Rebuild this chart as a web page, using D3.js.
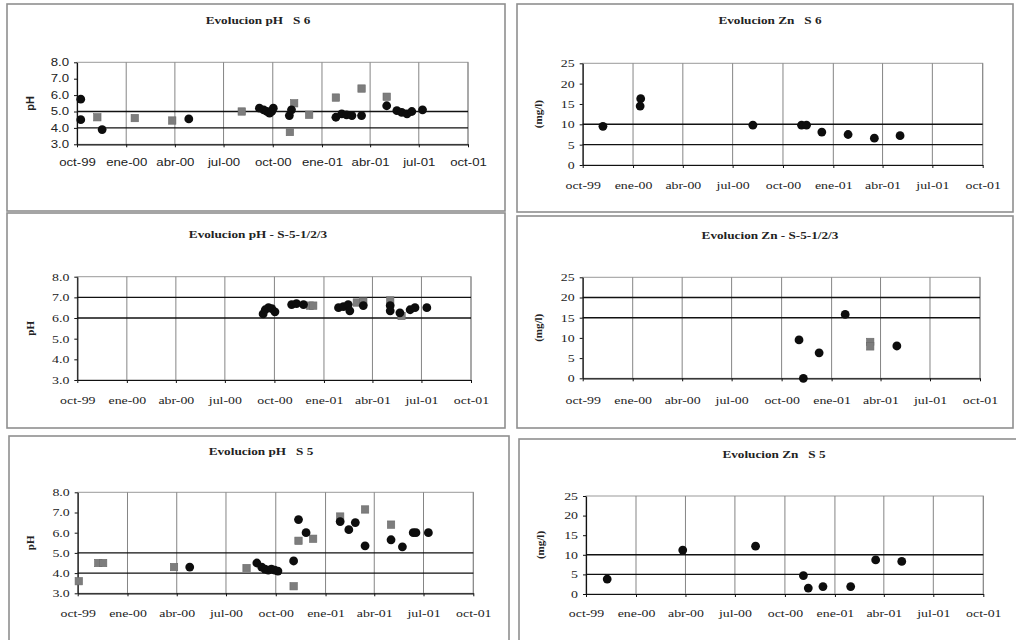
<!DOCTYPE html>
<html><head><meta charset="utf-8">
<script src="https://cdn.jsdelivr.net/npm/d3@7"></script>
<style>body{margin:0;background:#fff} svg{display:block}</style>
</head><body>
<svg id="c" width="1016" height="640"></svg>
<script>
// ---------------- DATA ----------------
const tickDates = ["1999-10-01","2000-01-01","2000-04-01","2000-07-01","2000-10-01","2001-01-01","2001-04-01","2001-07-01","2001-10-01"];
const xTickLabels = ["oct-99","ene-00","abr-00","jul-00","oct-00","ene-01","abr-01","jul-01","oct-01"];
const phTicks = [3,4,5,6,7,8];
const znTicks = [0,5,10,15,20,25];
const titles = ["Evolucion pH   S 6","Evolucion Zn   S 6","Evolucion pH - S-5-1/2/3","Evolucion Zn - S-5-1/2/3","Evolucion pH   S 5","Evolucion Zn   S 5"];
const yLabels = ["pH","(mg/l)","pH","(mg/l)","pH","(mg/l)"];

// S 6 pH
const s6PhBlack = [["1999-10-08",5.75],["1999-10-08",4.5],["1999-11-17",3.9],["2000-04-27",4.55],
  ["2000-09-06",5.2],["2000-09-14",5.1],["2000-09-20",5.0],["2000-09-25",4.9],["2000-09-29",5.0],["2000-10-02",5.2],
  ["2000-11-01",4.75],["2000-11-05",5.1],["2001-01-27",4.65],["2001-02-07",4.85],["2001-02-16",4.8],["2001-02-26",4.75],
  ["2001-03-16",4.75],["2001-05-02",5.35],["2001-05-21",5.05],["2001-05-30",4.95],["2001-06-09",4.85],["2001-06-18",5.0],["2001-07-08",5.1]];
const s6PhGray = [["1999-11-08",4.65],["2000-01-17",4.6],["2000-03-27",4.45],["2000-08-04",5.0],["2000-11-10",5.5],
  ["2000-11-02",3.75],["2000-12-08",4.8],["2001-01-27",5.85],["2001-03-16",6.4],["2001-05-02",5.9]];
const s6PhLimits = [4,5];
// S 6 Zn
const s6ZnBlack = [["1999-11-07",9.5],["2000-01-15",16.3],["2000-01-14",14.5],["2000-08-07",9.8],["2000-11-04",9.8],
  ["2000-11-13",9.8],["2000-12-11",8.1],["2001-01-28",7.5],["2001-03-17",6.6],["2001-05-03",7.2]];
const s6ZnGray = [];
const s6ZnLimits = [5,10];
// S-5-1/2/3 pH
const s5123PhBlack = [["2000-09-10",6.2],["2000-09-14",6.4],["2000-09-20",6.5],["2000-09-26",6.45],["2000-10-02",6.3],
  ["2000-11-02",6.65],["2000-11-11",6.7],["2000-11-24",6.65],["2001-01-28",6.5],["2001-02-06",6.55],["2001-02-15",6.65],
  ["2001-02-18",6.35],["2001-03-15",6.6],["2001-05-04",6.6],["2001-05-04",6.35],["2001-05-22",6.25],["2001-06-10",6.4],
  ["2001-06-19",6.5],["2001-07-11",6.5]];
const s5123PhGray = [["2000-12-06",6.6],["2000-12-12",6.6],["2001-03-03",6.75],["2001-03-15",6.8],["2001-05-04",6.85],["2001-05-25",6.1]];
const s5123PhLimits = [6,7];
// S-5-1/2/3 Zn
const s5123ZnBlack = [["2000-11-02",9.5],["2000-11-10",0],["2000-12-09",6.3],["2001-01-26",15.8],["2001-05-01",8.0]];
const s5123ZnGray = [["2001-03-13",9.0],["2001-03-13",7.9]];
const s5123ZnLimits = [15,20];
// S 5 pH
const s5PhBlack = [["2000-04-25",4.3],["2000-08-27",4.5],["2000-09-05",4.3],["2000-09-11",4.2],["2000-09-17",4.15],
  ["2000-09-23",4.2],["2000-09-29",4.15],["2000-10-05",4.1],["2000-11-03",4.6],["2000-11-12",6.65],["2000-11-26",6.0],
  ["2001-01-28",6.55],["2001-02-13",6.15],["2001-02-25",6.5],["2001-03-15",5.35],["2001-05-02",5.65],["2001-05-23",5.3],
  ["2001-06-12",6.0],["2001-06-17",6.0],["2001-07-10",6.0]];
const s5PhGray = [["1999-10-03",3.6],["1999-11-08",4.5],["1999-11-17",4.5],["2000-03-27",4.3],["2000-08-08",4.25],
  ["2000-11-03",3.35],["2000-11-12",5.6],["2000-12-09",5.7],["2001-01-28",6.8],["2001-03-15",7.15],["2001-05-02",6.4]];
const s5PhLimits = [4,5];
// S 5 Zn
const s5ZnBlack = [["1999-11-09",3.8],["2000-03-27",11.2],["2000-08-08",12.2],["2000-11-04",4.7],["2000-11-13",1.5],
  ["2000-12-10",1.9],["2001-01-30",1.9],["2001-03-17",8.7],["2001-05-04",8.3]];
const s5ZnGray = [];
const s5ZnLimits = [5,10];

// ---------------- LAYOUT ----------------
const parse = d3.timeParse("%Y-%m-%d");
const SANS = "'Liberation Sans', Arial, sans-serif";
const SERIF = "'Liberation Serif', 'Times New Roman', serif";
const panels = [
  {ti:0, black:s6PhBlack, gray:s6PhGray, dom:[3,8], ticks:phTicks, fmt:d3.format(".1f"), lim:s6PhLimits, font:SANS,
   box:[7,4,498,207], plot:[77,62.3,468,144.3], titleY:20, labY:163, ylabX:30},
  {ti:1, black:s6ZnBlack, gray:s6ZnGray, dom:[0,25], ticks:znTicks, fmt:d3.format("d"), lim:s6ZnLimits, font:SERIF,
   box:[517,4,496,208], plot:[582.7,63.3,982.7,165], titleY:20, labY:185, ylabX:538},
  {ti:2, black:s5123PhBlack, gray:s5123PhGray, dom:[3,8], ticks:phTicks, fmt:d3.format(".1f"), lim:s5123PhLimits, font:SERIF,
   box:[7,213,498,215], plot:[77.3,276.7,471,380], titleY:234, labY:400.7, ylabX:30},
  {ti:3, black:s5123ZnBlack, gray:s5123ZnGray, dom:[0,25], ticks:znTicks, fmt:d3.format("d"), lim:s5123ZnLimits, font:SERIF,
   box:[517,216,496,212], plot:[582.7,277.3,980,378.3], titleY:235, labY:400, ylabX:538},
  {ti:4, black:s5PhBlack, gray:s5PhGray, dom:[3,8], ticks:phTicks, fmt:d3.format(".1f"), lim:s5PhLimits, font:SERIF,
   box:[9,436,500,215], plot:[77.7,492.3,473.3,593.3], titleY:451.7, labY:613, ylabX:30},
  {ti:5, black:s5ZnBlack, gray:s5ZnGray, dom:[0,25], ticks:znTicks, fmt:d3.format("d"), lim:s5ZnLimits, font:SERIF,
   box:[519,439,500,215], plot:[586,496,983.3,594], titleY:454, labY:613.3, ylabX:540}
];

const svg = d3.select("#c");
const dates = tickDates.map(parse);

panels.forEach(p => {
  const g = svg.append("g");
  const [bx,by,bw,bh] = p.box;
  g.append("rect").attr("x",bx).attr("y",by).attr("width",bw).attr("height",bh)
    .attr("fill","#fff").attr("stroke","#8f8f8f").attr("stroke-width",1.6);
  const [x1,y1,x2,y2] = p.plot;
  const x = d3.scaleTime().domain([dates[0], dates[dates.length-1]]).range([x1,x2]);
  const y = d3.scaleLinear().domain(p.dom).range([y2,y1]);

  g.append("rect").attr("x",x1).attr("y",y1).attr("width",x2-x1).attr("height",y2-y1)
    .attr("fill","none").attr("stroke","#9a9a9a").attr("stroke-width",1);
  g.selectAll("line.grid").data(dates.slice(1)).enter().append("line")
    .attr("x1",d=>x(d)).attr("x2",d=>x(d)).attr("y1",y1).attr("y2",y2)
    .attr("stroke","#858585").attr("stroke-width",1);
  g.selectAll("line.lim").data(p.lim).enter().append("line")
    .attr("x1",x1).attr("x2",x2).attr("y1",d=>y(d)).attr("y2",d=>y(d))
    .attr("stroke","#111").attr("stroke-width",1.4);

  const xa = g.append("g").attr("transform",`translate(0,${y2})`)
    .call(d3.axisBottom(x).tickValues(dates).tickFormat((d,i)=>xTickLabels[i]).tickSize(3).tickSizeOuter(0).tickPadding(p.labY-y2-3-3.8));
  const ya = g.append("g").attr("transform",`translate(${x1},0)`)
    .call(d3.axisLeft(y).tickValues(p.ticks).tickFormat(p.fmt).tickSize(3).tickSizeOuter(0).tickPadding(5));
  [xa,ya].forEach(a => {
    a.select(".domain").attr("stroke","#111").attr("stroke-width",1.2);
    a.selectAll(".tick line").attr("stroke","#111");
    a.selectAll("text").attr("font-family",p.font).attr("font-size", p.font===SANS ? 10 : 10.5)
      .attr("fill","#222").classed("st",true);
  });

  g.selectAll("rect.sq").data(p.gray).enter().append("rect")
    .attr("x",d=>x(parse(d[0]))-3.7).attr("y",d=>y(d[1])-3.7).attr("width",7.4).attr("height",7.4)
    .attr("fill","#7d7d7d").attr("stroke","#6a6a6a").attr("stroke-width",0.6);
  g.selectAll("circle.pt").data(p.black).enter().append("circle")
    .attr("cx",d=>x(parse(d[0]))).attr("cy",d=>y(d[1])).attr("r",4.4).attr("fill","#0d0d0d");

  g.append("text").attr("x",(bx+bw/2)+ (p.ti%2===0?2:5)).attr("y",p.titleY+3.5).attr("text-anchor","middle")
    .attr("font-family",SERIF).attr("font-weight","bold").attr("font-size",10).attr("fill","#222")
    .style("white-space","pre").classed("st",true).text(titles[p.ti]);
  const cy = (y1+y2)/2;
  g.append("text").attr("transform",`translate(${p.ylabX+4},${cy}) rotate(-90)`).attr("text-anchor","middle")
    .attr("font-family",p.font).attr("font-weight","bold").attr("font-size",11).attr("fill","#222")
    .text(yLabels[p.ti]);
});

svg.selectAll("text.st").each(function(){
  const L = this.getComputedTextLength();
  d3.select(this).attr("textLength", L*1.32).attr("lengthAdjust","spacingAndGlyphs");
});
</script>
</body></html>
